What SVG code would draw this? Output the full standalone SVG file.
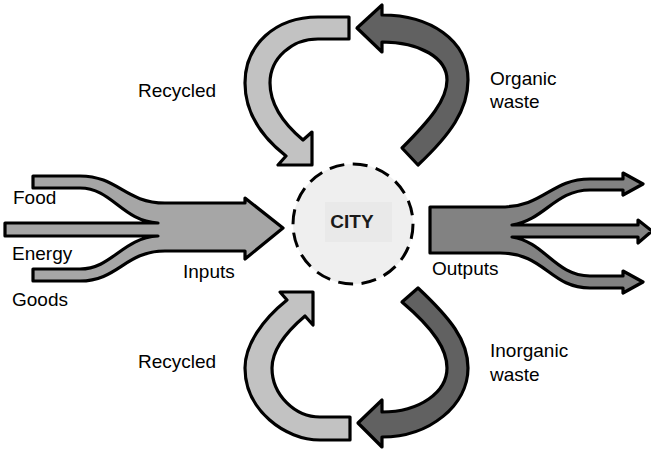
<svg xmlns="http://www.w3.org/2000/svg" width="651" height="450" viewBox="0 0 651 450">
  <style>
    .shape { stroke: #000; stroke-width: 3.2; stroke-linejoin: round; }
    .light { fill: #c2c2c2; }
    .dark { fill: #616161; }
    .input { fill: #a6a6a6; }
    .output { fill: #828282; }
    .label { font-family: "Liberation Sans", Arial, sans-serif; font-size: 19px; fill: #000; }
    .title { font-family: "Liberation Sans", Arial, sans-serif; font-size: 19px; font-weight: bold; fill: #1a1a1a; }
  </style>
  <rect width="651" height="450" fill="#fff"/>

  <!-- flows into and out of the city, and the recycling loops -->
  <g id="connectors">
    <!-- inputs: food, energy and goods merging into one arrow -->
    <path id="inputs-arrow" class="shape input" d="M33,176 L80,176 C118,176 125,203 165,203 L245,203 L245,198 L283,228 L245,259 L245,251 L165,251 C125,251 118,281 80,281 L33,281 L33,269 L80,269 C112,269 122,238 158,236 L5,236 L5,223 L158,223 C122,221 112,188 80,188 L33,188 Z"/>
    <!-- outputs: one body splitting into three arrows -->
    <path id="outputs-arrow" class="shape output" d="M430,207 L500,207 C545,207 550,179 590,179 L623,179 L623,173 L643,184 L623,195 L623,190 L590,190 C555,190 545,220 512,225 L638,225 L638,220 L652,231 L638,243 L638,237 L512,237 C545,242 555,276 590,276 L623,276 L623,271 L643,282 L623,293 L623,288 L590,288 C550,288 545,253 500,253 L430,253 Z"/>
    <!-- top: recycled back into the city -->
    <path id="recycled-top" class="shape light" d="M349,17 L318,17 C275,17 245,45 245,83 C245,115 263,138 286,156 L278,165 L312,165 L312,132 L303,140 C284,124 270,105 270,83 C270,58 292,39 318,39 L349,39 Z"/>
    <!-- top: organic waste leaving the city -->
    <path id="organic-waste" class="shape dark" d="M357,28 L382,5 L382,15 C430,15 468,40 468,80 C468,110 450,135 418,165 L402,148 C430,120 447,100 447,80 C447,58 420,42 382,42 L382,52 Z"/>
    <!-- bottom: recycled back into the city -->
    <path id="recycled-bottom" class="shape light" d="M313,292 L280,292 L287,300 C262,320 245,345 245,368 C245,410 285,440 320,440 L350,440 L350,417 L320,417 C295,417 272,395 272,368 C272,350 285,333 305,316 L313,325 Z"/>
    <!-- bottom: inorganic waste leaving the city -->
    <path id="inorganic-waste" class="shape dark" d="M358,423 L382,400 L382,412 C420,412 447,392 447,368 C447,350 435,330 402,302 L418,288 C450,318 468,340 468,368 C468,405 430,437 382,437 L382,447 Z"/>
  </g>

  <!-- the city -->
  <g id="city">
    <circle cx="353" cy="224" r="60" fill="#efefef" stroke="#000" stroke-width="3" stroke-dasharray="15 8.5"/>
    <rect x="325" y="202" width="67" height="40" fill="#e9e9e9"/>
    <text class="title" x="352" y="228" text-anchor="middle">CITY</text>
  </g>

  <g id="labels">
    <text class="label" x="13" y="204">Food</text>
    <text class="label" x="12" y="260">Energy</text>
    <text class="label" x="12" y="306">Goods</text>
    <text class="label" x="183" y="278">Inputs</text>
    <text class="label" x="432" y="275">Outputs</text>
    <text class="label" x="138" y="97">Recycled</text>
    <text class="label" x="490" y="85">Organic</text>
    <text class="label" x="490" y="108">waste</text>
    <text class="label" x="138" y="368">Recycled</text>
    <text class="label" x="490" y="357">Inorganic</text>
    <text class="label" x="490" y="381">waste</text>
  </g>
</svg>
